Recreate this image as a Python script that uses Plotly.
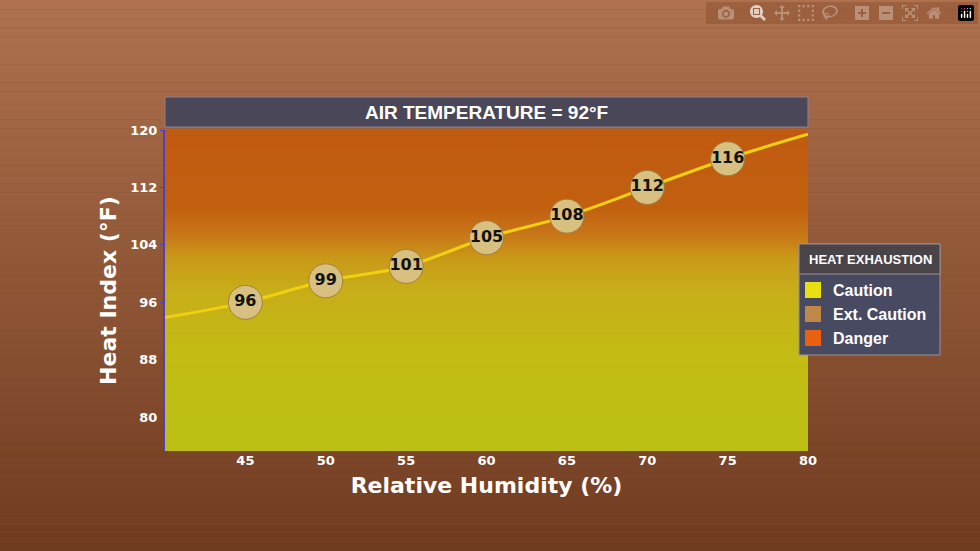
import numpy as np
import plotly.graph_objects as go

# heat index curve at 92F air temperature
humidity = [40, 45, 50, 55, 60, 65, 70, 75, 80]
heat_index = [93.9, 96, 99, 101, 105, 108, 112, 116, 119.4]
labeled_humidity = [45, 50, 55, 60, 65, 70, 75]
labeled_index = [96, 99, 101, 105, 108, 112, 116]

x_ticks = [45, 50, 55, 60, 65, 70, 75, 80]
y_ticks = [80, 88, 96, 104, 112, 120]

legend_names = ["Caution", "Ext. Caution", "Danger"]
legend_colors = ["#e8e010", "#c08848", "#e86010"]

L, R, T, B = 165, 172, 130, 100
W, H = 980, 551
pw, ph = W - L - R, H - T - B


def px(x):
    return (x - L) / pw


def py(y):
    return (H - B - y) / ph


fig = go.Figure()

# plot area danger-zone gradient
zone_y = np.linspace(75.3, 120, 60)
fig.add_trace(go.Heatmap(
    x=[40, 80], y=zone_y, z=[[v, v] for v in zone_y],
    colorscale=[[0, "#bcc014"], [0.3, "#c2bc14"], [0.5, "#c8ae18"],
                [0.6, "#c99a18"], [0.68, "#c87418"], [0.76, "#c2600f"], [1, "#c05a10"]],
    showscale=False, zsmooth="best", hoverinfo="skip"))

fig.add_trace(go.Scatter(
    x=humidity, y=heat_index, mode="lines", line=dict(color="#f0d010", width=3, shape="spline"),
    hoverinfo="skip"))
fig.add_trace(go.Scatter(
    x=labeled_humidity, y=labeled_index, mode="markers+text",
    marker=dict(size=34, color="#d8c080", line=dict(color="#a08040", width=1)),
    text=[str(v) for v in labeled_index], textposition="middle center",
    textfont=dict(family="DejaVu Sans", size=16, color="#111111", weight="bold")))

# page background gradient, drawn as thin bands behind everything
n_bands = 60
for i in range(n_bands):
    t = i / (n_bands - 1)
    top = np.array([0xb0, 0x72, 0x4e])
    bottom = np.array([0x70, 0x3c, 0x20])
    c = (top * (1 - t) + bottom * t).astype(int)
    fig.add_shape(type="rect", xref="paper", yref="paper", layer="below",
                  x0=px(0), x1=px(W), y0=py(H * (i + 1) / n_bands), y1=py(H * i / n_bands),
                  fillcolor="rgb(%d,%d,%d)" % tuple(c), line=dict(width=0))

# title bar
fig.add_shape(type="rect", xref="paper", yref="paper", x0=0, x1=1, y0=py(127), y1=py(97),
              fillcolor="#4a4858", line=dict(color="#8a8090", width=1))
fig.add_annotation(xref="paper", yref="paper", x=0.5, y=py(112), xanchor="center", yanchor="middle",
                   text="AIR TEMPERATURE = 92°F", showarrow=False,
                   font=dict(family="Liberation Sans", size=19, color="white", weight="bold"))

# legend box
fig.add_shape(type="rect", xref="paper", yref="paper", x0=px(799), x1=px(940), y0=py(355), y1=py(244),
              fillcolor="#484a62", line=dict(color="#9a9090", width=1))
fig.add_shape(type="rect", xref="paper", yref="paper", x0=px(799), x1=px(940), y0=py(274), y1=py(244),
              fillcolor="#4a4448", line=dict(color="#9a9090", width=1))
fig.add_annotation(xref="paper", yref="paper", x=px(870), y=py(259), xanchor="center", yanchor="middle",
                   text="HEAT EXHAUSTION", showarrow=False,
                   font=dict(family="Liberation Sans", size=13, color="white", weight="bold"))
for i, (name, color) in enumerate(zip(legend_names, legend_colors)):
    cy = 290 + i * 24
    fig.add_shape(type="rect", xref="paper", yref="paper", x0=px(805), x1=px(821),
                  y0=py(cy + 8), y1=py(cy - 8), fillcolor=color, line=dict(width=0))
    fig.add_annotation(xref="paper", yref="paper", x=px(831), y=py(cy), xanchor="left", yanchor="middle",
                       text=name, showarrow=False,
                       font=dict(family="Liberation Sans", size=16, color="white", weight="bold"))

fig.update_layout(
    width=W, height=H, margin=dict(l=L, r=R, t=T, b=B),
    paper_bgcolor="#8c5030", plot_bgcolor="rgba(0,0,0,0)", showlegend=False,
    xaxis=dict(range=[40, 80], tickvals=x_ticks, showgrid=False, zeroline=False,
               tickfont=dict(family="DejaVu Sans", size=13, color="white", weight="bold"),
               title=dict(text="Relative Humidity (%)", standoff=10,
                          font=dict(family="DejaVu Sans", size=22, color="white", weight="bold"))),
    yaxis=dict(range=[75.3, 120], tickvals=y_ticks, showgrid=False, zeroline=False,
               showline=True, linecolor="#5040c0", linewidth=2, ticks="outside", ticklen=3,
               tickcolor="#5040c0",
               tickfont=dict(family="DejaVu Sans", size=13, color="white", weight="bold"),
               title=dict(text="Heat Index (°F)", standoff=8,
                          font=dict(family="DejaVu Sans", size=22, color="white", weight="bold"))),
)

fig.write_html("out.html", post_script="document.body.style.margin='0';")
